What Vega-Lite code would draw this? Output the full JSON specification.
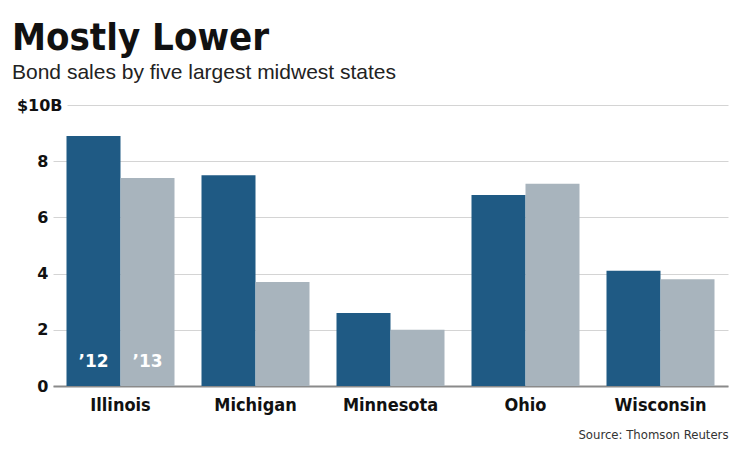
{
  "$schema": "https://vega.github.io/schema/vega-lite/v6.json",
  "width": 675,
  "height": 281,
  "autosize": {"type": "none"},
  "padding": {"left": 53, "top": 105, "right": 12, "bottom": 68},
  "background": "white",
  "config": {"view": {"stroke": null}},
  "title": {
    "text": "Mostly Lower",
    "subtitle": "Bond sales by five largest midwest states",
    "anchor": "start",
    "frame": "group",
    "dx": -41,
    "offset": 14,
    "font": "DejaVu Sans Condensed, Roboto, sans-serif",
    "fontSize": 38,
    "fontWeight": "bold",
    "color": "#111111",
    "subtitleFont": "Liberation Sans",
    "subtitleFontSize": 21,
    "subtitleColor": "#222222",
    "subtitlePadding": 4
  },
  "data": {
    "values": [
      {"state": "Illinois", "year": "’12", "value": 8.9},
      {"state": "Illinois", "year": "’13", "value": 7.4},
      {"state": "Michigan", "year": "’12", "value": 7.5},
      {"state": "Michigan", "year": "’13", "value": 3.7},
      {"state": "Minnesota", "year": "’12", "value": 2.6},
      {"state": "Minnesota", "year": "’13", "value": 2.0},
      {"state": "Ohio", "year": "’12", "value": 6.8},
      {"state": "Ohio", "year": "’13", "value": 7.2},
      {"state": "Wisconsin", "year": "’12", "value": 4.1},
      {"state": "Wisconsin", "year": "’13", "value": 3.8}
    ]
  },
  "encoding": {
    "x": {
      "field": "state",
      "type": "nominal",
      "sort": null,
      "scale": {"paddingInner": 0.2, "paddingOuter": 0.1},
      "axis": {
        "labelAngle": 0,
        "labelFont": "DejaVu Sans Condensed, Roboto, sans-serif",
        "labelFontWeight": "bold",
        "labelFontSize": 18,
        "labelColor": "#111111",
        "labelPadding": 10,
        "ticks": false,
        "domain": true,
        "domainColor": "#8a8a8a",
        "domainWidth": 2,
        "title": "Source: Thomson Reuters",
        "titleAnchor": "end",
        "titleAlign": "right",
        "titleFont": "DejaVu Sans Condensed, Roboto, sans-serif",
        "titleFontSize": 13,
        "titleFontWeight": "normal",
        "titleColor": "#333333",
        "titlePadding": 14
      }
    },
    "xOffset": {"field": "year", "type": "nominal", "sort": null},
    "y": {
      "field": "value",
      "type": "quantitative",
      "scale": {"domain": [0, 10]},
      "axis": {
        "values": [0, 2, 4, 6, 8, 10],
        "title": null,
        "domain": false,
        "ticks": false,
        "labelExpr": "datum.value == 10 ? '$10B' : datum.label",
        "labelFont": "DejaVu Sans",
        "labelFontWeight": "bold",
        "labelFontSize": 16,
        "labelColor": "#111111",
        "labelPadding": {"condition": {"test": "datum.value == 10", "value": -9}, "value": 5},
        "gridColor": "#d4d4d4",
        "gridWidth": 1,
        "gridDash": {"condition": {"test": "datum.value == 10", "value": [0, 14, 1000]}, "value": []}
      }
    }
  },
  "layer": [
    {
      "mark": {"type": "bar"},
      "encoding": {
        "color": {
          "field": "year",
          "type": "nominal",
          "sort": null,
          "scale": {"range": ["#1f5a84", "#a8b4bd"]},
          "legend": null
        }
      }
    },
    {
      "transform": [{"filter": "datum.state == 'Illinois'"}],
      "mark": {
        "type": "text",
        "color": "white",
        "font": "DejaVu Sans",
        "fontWeight": "bold",
        "fontSize": 17,
        "baseline": "alphabetic",
        "dy": -19
      },
      "encoding": {
        "y": {"datum": 0},
        "text": {"field": "year"}
      }
    }
  ]
}
